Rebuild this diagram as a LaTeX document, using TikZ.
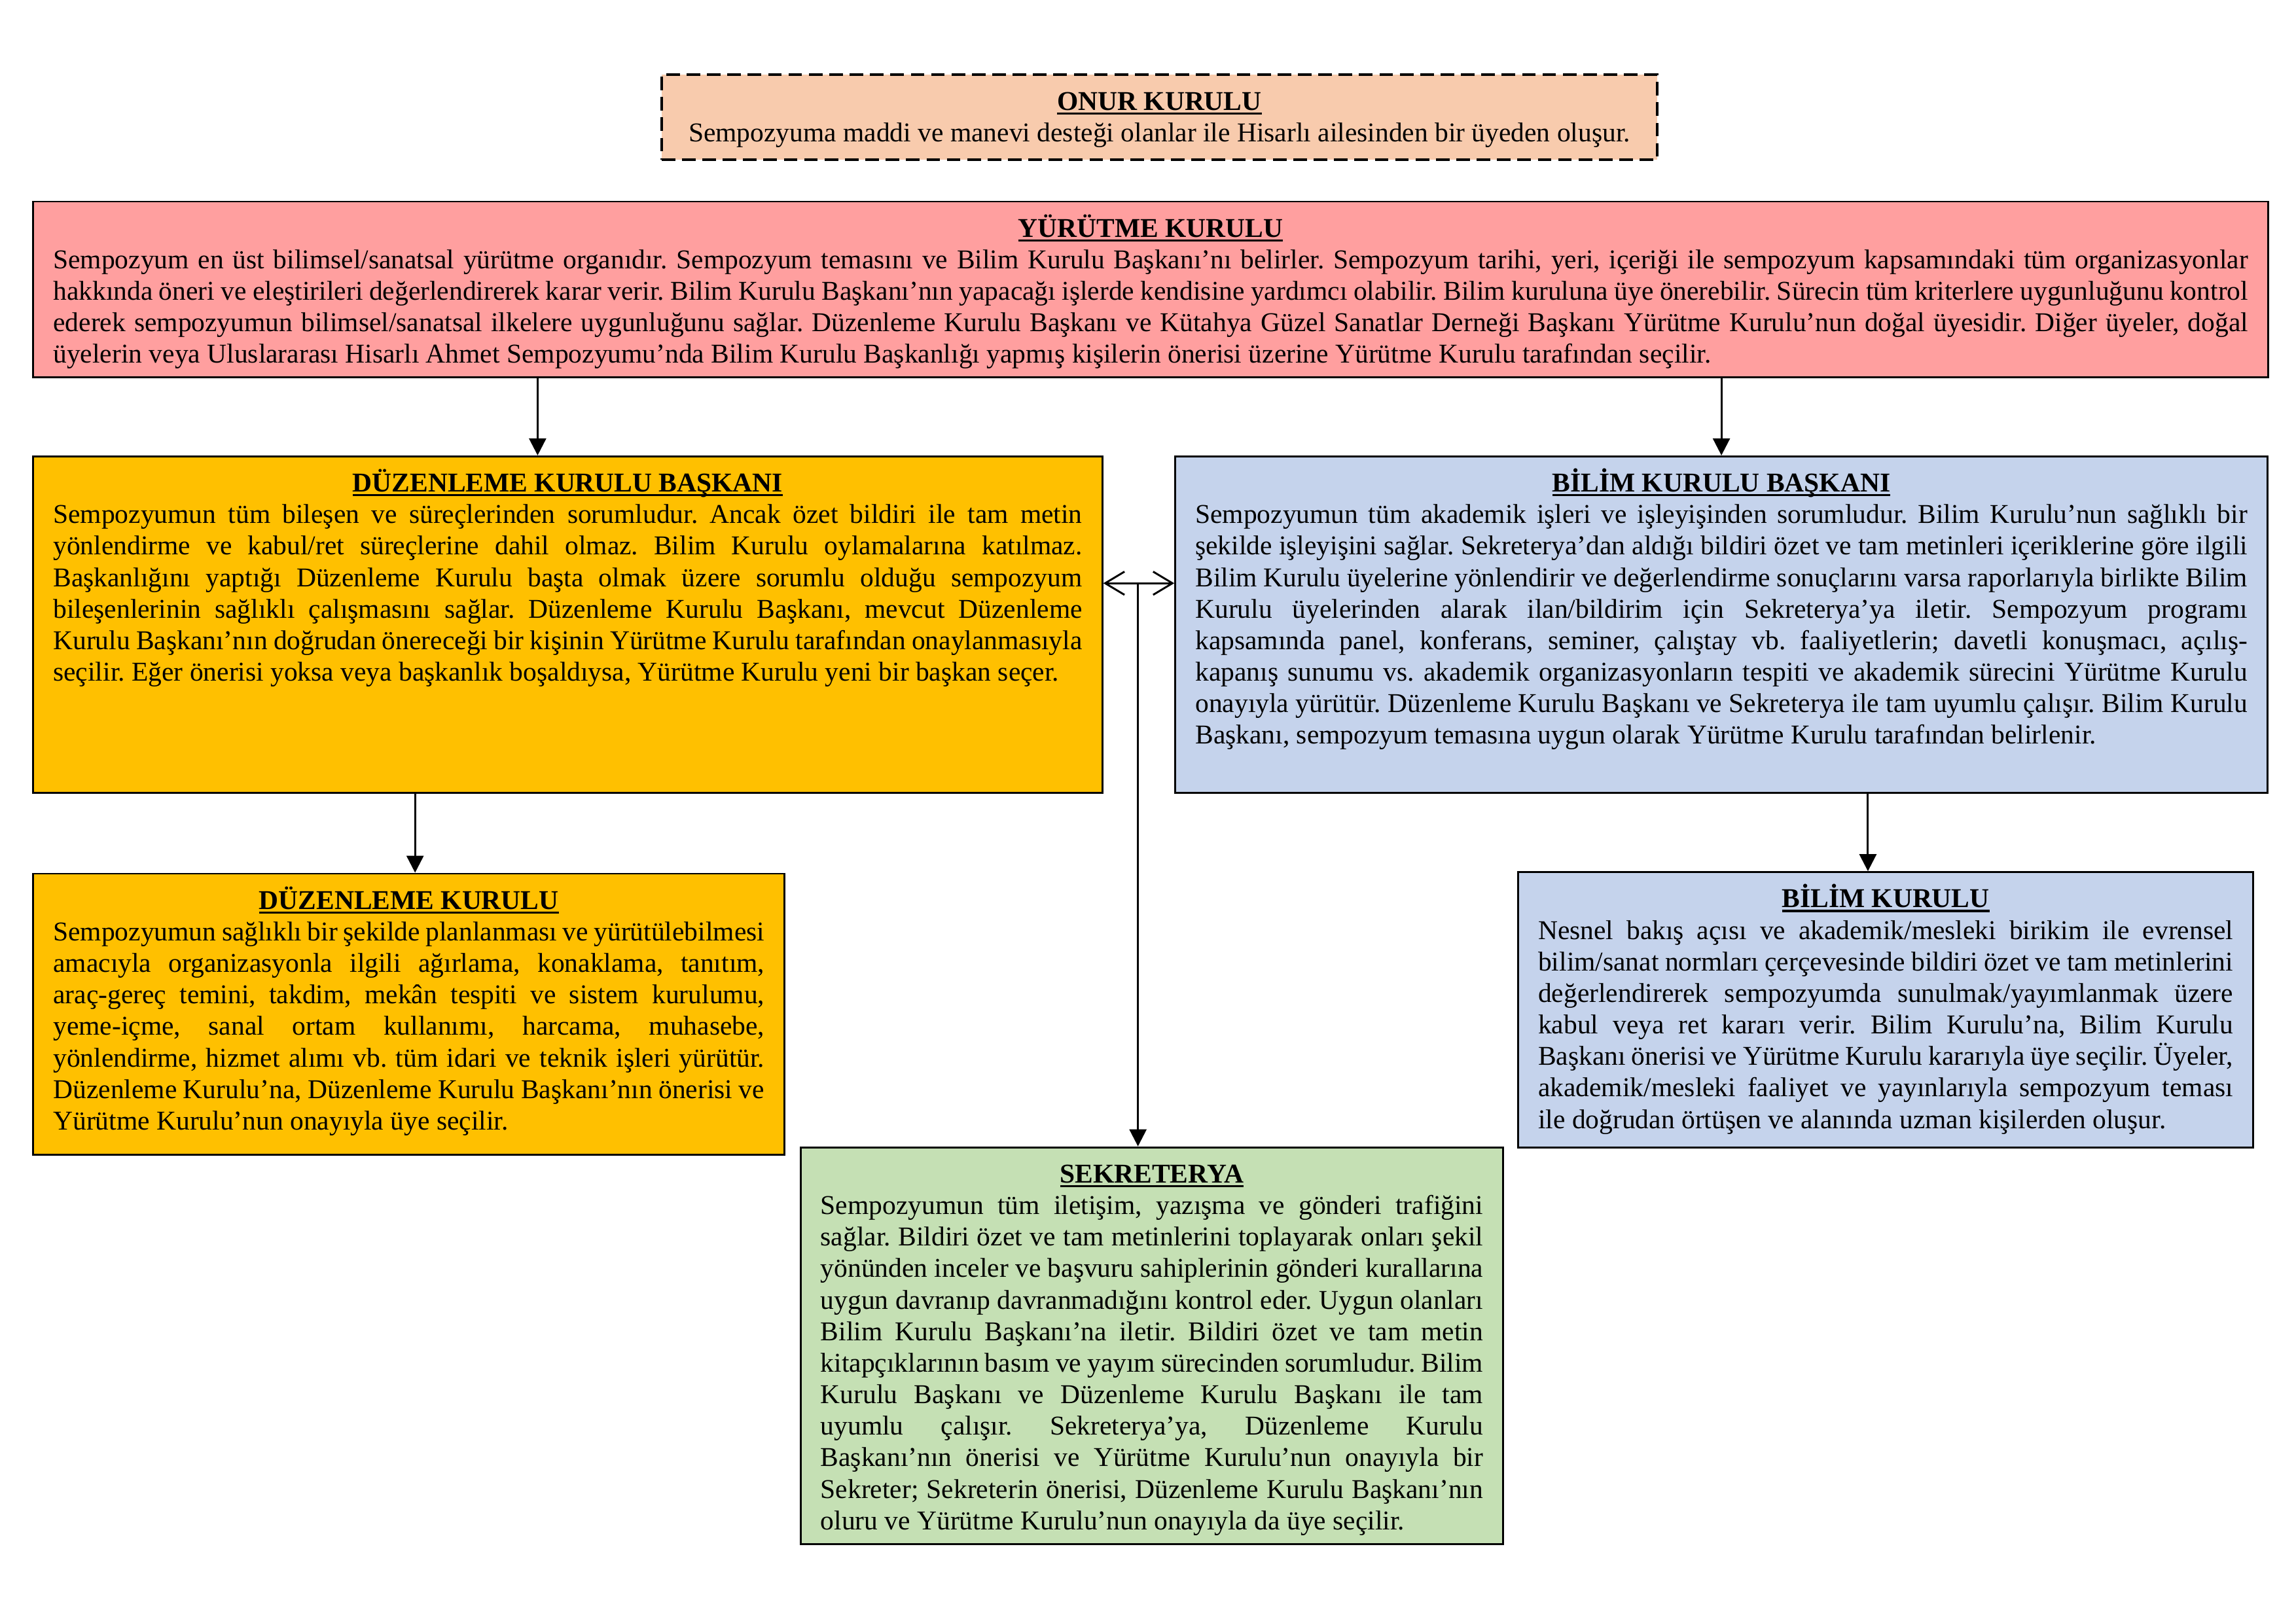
\documentclass[tikz,border=0pt]{standalone}
\usepackage{fontspec}
\setmainfont{Liberation Serif}
\usepackage{xcolor}
\usepackage{tikz}
\usetikzlibrary{arrows.meta, positioning}

\definecolor{onurrenk}{HTML}{F8CBAD}
\definecolor{yurutmerenk}{HTML}{FF9F9F}
\definecolor{duzenrenk}{HTML}{FFC000}
\definecolor{bilimrenk}{HTML}{C5D3EC}
\definecolor{sekrenk}{HTML}{C5E0B4}

\hyphenpenalty=10000
\exhyphenpenalty=10000
\frenchspacing

\newcommand{\baslik}[1]{\setbox0\hbox{\textbf{#1}}\rlap{\rule[-1.6pt]{\wd0}{0.8pt}}\box0}
% box text: width, height, title, body
\newcommand{\kurulmetin}[4]{\parbox[t][#2][t]{#1}{%
  {\centering\rule{0pt}{0.46cm}\baslik{#3}\par}#4}}

\tikzstyle{kutu}   = [rectangle, draw, line width=0.7pt, inner xsep=0.26cm, inner ysep=0pt,
                      anchor=north west, font=\fontsize{10}{11.6}\selectfont]
\tikzstyle{ok}     = [-{Triangle[length=2.2mm, width=2.2mm]}, line width=0.7pt]
\tikzstyle{ciftok} = [{Straight Barb[length=2.5mm, width=3mm]}-{Straight Barb[length=2.5mm, width=3mm]}, line width=0.7pt]

\begin{document}
\begin{tikzpicture}
  \useasboundingbox (0,0) rectangle (29.7,-20.988);

  % Onur kurulu
  \node[kutu, fill=onurrenk, line width=1pt, dash pattern=on 5pt off 2.5pt] (onur) at (8.54,-0.947)
    {\kurulmetin{12.36cm}{1.099cm}{ONUR KURULU}{\centering Sempozyuma maddi ve manevi desteği olanlar ile Hisarlı ailesinden bir üyeden oluşur.}};

  % Yurutme kurulu
  \node[kutu, fill=yurutmerenk] (yurutme) at (0.417,-2.595)
    {\kurulmetin{28.39cm}{2.273cm}{YÜRÜTME KURULU}{Sempozyum en üst bilimsel/sanatsal yürütme organıdır. Sempozyum temasını ve Bilim Kurulu Başkanı’nı belirler. Sempozyum tarihi, yeri, içeriği ile sempozyum kapsamındaki tüm organizasyonlar\linebreak
    hakkında öneri ve eleştirileri değerlendirerek karar verir. Bilim Kurulu Başkanı’nın yapacağı işlerde kendisine yardımcı olabilir. Bilim kuruluna üye önerebilir. Sürecin tüm kriterlere uygunluğunu kontrol\linebreak
    ederek sempozyumun bilimsel/sanatsal ilkelere uygunluğunu sağlar. Düzenleme Kurulu Başkanı ve Kütahya Güzel Sanatlar Derneği Başkanı Yürütme Kurulu’nun doğal üyesidir. Diğer üyeler, doğal\linebreak
    üyelerin veya Uluslararası Hisarlı Ahmet Sempozyumu’nda Bilim Kurulu Başkanlığı yapmış kişilerin önerisi üzerine Yürütme Kurulu tarafından seçilir.}};

  % Baskanlar
  \node[kutu, fill=duzenrenk] (dkb) at (0.417,-5.891)
    {\kurulmetin{13.31cm}{4.357cm}{DÜZENLEME KURULU BAŞKANI}{Sempozyumun tüm bileşen ve süreçlerinden sorumludur. Ancak özet bildiri ile tam metin\linebreak
    yönlendirme ve kabul/ret süreçlerine dahil olmaz. Bilim Kurulu oylamalarına katılmaz.\linebreak
    Başkanlığını yaptığı Düzenleme Kurulu başta olmak üzere sorumlu olduğu sempozyum\linebreak
    bileşenlerinin sağlıklı çalışmasını sağlar. Düzenleme Kurulu Başkanı, mevcut Düzenleme\linebreak
    Kurulu Başkanı’nın doğrudan önereceği bir kişinin Yürütme Kurulu tarafından onaylanmasıyla\linebreak
    seçilir. Eğer önerisi yoksa veya başkanlık boşaldıysa, Yürütme Kurulu yeni bir başkan seçer.}};

  \node[kutu, fill=bilimrenk] (bkb) at (15.19,-5.891)
    {\kurulmetin{13.61cm}{4.357cm}{BİLİM KURULU BAŞKANI}{Sempozyumun tüm akademik işleri ve işleyişinden sorumludur. Bilim Kurulu’nun sağlıklı bir\linebreak
    şekilde işleyişini sağlar. Sekreterya’dan aldığı bildiri özet ve tam metinleri içeriklerine göre ilgili\linebreak
    Bilim Kurulu üyelerine yönlendirir ve değerlendirme sonuçlarını varsa raporlarıyla birlikte Bilim\linebreak
    Kurulu üyelerinden alarak ilan/bildirim için Sekreterya’ya iletir. Sempozyum programı\linebreak
    kapsamında panel, konferans, seminer, çalıştay vb. faaliyetlerin; davetli konuşmacı, açılış-\linebreak
    kapanış sunumu vs. akademik organizasyonların tespiti ve akademik sürecini Yürütme Kurulu\linebreak
    onayıyla yürütür. Düzenleme Kurulu Başkanı ve Sekreterya ile tam uyumlu çalışır. Bilim Kurulu\linebreak
    Başkanı, sempozyum temasına uygun olarak Yürütme Kurulu tarafından belirlenir.}};

  % Kurullar
  \node[kutu, fill=duzenrenk] (dk) at (0.417,-11.29)
    {\kurulmetin{9.20cm}{3.637cm}{DÜZENLEME KURULU}{Sempozyumun sağlıklı bir şekilde planlanması ve yürütülebilmesi\linebreak
    amacıyla organizasyonla ilgili ağırlama, konaklama, tanıtım,\linebreak
    araç-gereç temini, takdim, mekân tespiti ve sistem kurulumu,\linebreak
    yeme-içme, sanal ortam kullanımı, harcama, muhasebe,\linebreak
    yönlendirme, hizmet alımı vb. tüm idari ve teknik işleri yürütür.\linebreak
    Düzenleme Kurulu’na, Düzenleme Kurulu Başkanı’nın önerisi ve\linebreak
    Yürütme Kurulu’nun onayıyla üye seçilir.}};

  \node[kutu, fill=bilimrenk] (bk) at (19.625,-11.27)
    {\kurulmetin{8.99cm}{3.561cm}{BİLİM KURULU}{Nesnel bakış açısı ve akademik/mesleki birikim ile evrensel\linebreak
    bilim/sanat normları çerçevesinde bildiri özet ve tam metinlerini\linebreak
    değerlendirerek sempozyumda sunulmak/yayımlanmak üzere\linebreak
    kabul veya ret kararı verir. Bilim Kurulu’na, Bilim Kurulu\linebreak
    Başkanı önerisi ve Yürütme Kurulu kararıyla üye seçilir. Üyeler,\linebreak
    akademik/mesleki faaliyet ve yayınlarıyla sempozyum teması\linebreak
    ile doğrudan örtüşen ve alanında uzman kişilerden oluşur.}};

  \node[kutu, fill=sekrenk] (sek) at (10.343,-14.83)
    {\kurulmetin{8.57cm}{5.133cm}{SEKRETERYA}{Sempozyumun tüm iletişim, yazışma ve gönderi trafiğini\linebreak
    sağlar. Bildiri özet ve tam metinlerini toplayarak onları şekil\linebreak
    yönünden inceler ve başvuru sahiplerinin gönderi kurallarına\linebreak
    uygun davranıp davranmadığını kontrol eder. Uygun olanları\linebreak
    Bilim Kurulu Başkanı’na iletir. Bildiri özet ve tam metin\linebreak
    kitapçıklarının basım ve yayım sürecinden sorumludur. Bilim\linebreak
    Kurulu Başkanı ve Düzenleme Kurulu Başkanı ile tam\linebreak
    uyumlu çalışır. Sekreterya’ya, Düzenleme Kurulu\linebreak
    Başkanı’nın önerisi ve Yürütme Kurulu’nun onayıyla bir\linebreak
    Sekreter; Sekreterin önerisi, Düzenleme Kurulu Başkanı’nın\linebreak
    oluru ve Yürütme Kurulu’nun onayıyla da üye seçilir.}};

  % Oklar
  \draw[ok] ([xshift=-0.39cm]dkb.north |- yurutme.south) -- ([xshift=-0.39cm]dkb.north);
  \draw[ok] (bkb.north |- yurutme.south) -- (bkb.north);
  \draw[ok] ([xshift=0.08cm]dk.north |- dkb.south) -- ([xshift=0.08cm]dk.north);
  \draw[ok] ([xshift=-0.23cm]bk.north |- bkb.south) -- ([xshift=-0.23cm]bk.north);

  \coordinate (kavsak) at (14.72,-7.545);
  \draw[ciftok] (kavsak -| dkb.east) -- (kavsak -| bkb.west);
  \draw[ok] (kavsak) -- (kavsak |- sek.north);
\end{tikzpicture}
\end{document}
